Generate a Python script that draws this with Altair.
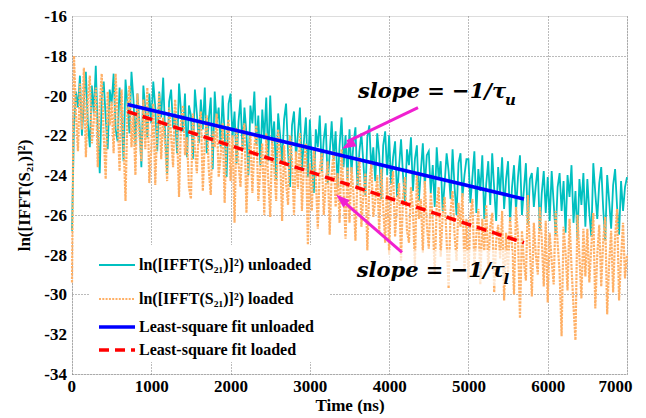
import altair as alt
import pandas as pd

# time grid (ns), one sample every 25 ns
time_ns = list(range(0, 7001, 25))

unloaded = [
    -26.8, -21.5, -19.8, -20.6, -19.0, -22.0, -20.3, -18.8, -21.4, -22.6, -19.5, -20.9, -18.5, -21.8, -23.9, -20.1, -19.3, -21.1, -22.7, -19.7,
    -20.4, -18.9, -21.7, -22.3, -19.6, -20.8, -23.3, -19.2, -20.5, -21.9, -18.8, -20.2, -22.5, -19.9, -21.3, -23.6, -19.5, -20.7, -22.1, -19.9,
    -21.4, -19.3, -20.6, -22.8, -19.8, -21.1, -19.1, -22.0, -23.9, -20.3, -19.7, -21.6, -20.9, -22.9, -19.4, -20.8, -21.8, -19.9, -23.1, -20.5,
    -21.0, -23.2, -19.7, -20.9, -22.4, -20.2, -21.7, -19.6, -22.9, -21.2, -20.1, -23.7, -19.8, -21.4, -20.6, -22.6, -20.0, -21.9, -24.1, -20.4,
    -19.9, -22.1, -20.8, -23.4, -21.3, -20.2, -22.7, -20.6, -21.9, -24.0, -20.5, -21.4, -19.8, -22.5, -21.0, -23.5, -20.7, -22.2, -20.1, -23.3,
    -20.0, -22.4, -21.3, -24.3, -20.9, -22.0, -23.4, -21.2, -20.4, -22.8, -24.6, -21.5, -20.8, -23.1, -21.9, -20.6, -23.7, -22.3, -21.1, -24.1,
    -21.2, -23.5, -24.9, -21.7, -22.6, -21.0, -23.8, -22.2, -21.4, -24.4, -22.9, -21.3, -23.2, -21.8, -24.6, -22.5, -21.1, -23.6, -22.0, -24.2,
    -21.7, -23.9, -22.4, -21.6, -24.7, -22.8, -21.9, -23.4, -25.0, -22.1, -21.5, -23.7, -22.6, -24.3, -21.9, -23.0, -25.2, -22.5, -21.8, -24.0,
    -22.0, -24.5, -23.1, -22.3, -25.1, -23.6, -22.2, -24.0, -25.4, -22.7, -23.5, -22.1, -24.8, -23.2, -22.5, -25.3, -23.8, -22.4, -24.6, -23.0,
    -22.8, -24.9, -23.5, -25.6, -22.6, -24.2, -23.3, -25.8, -24.4, -22.9, -23.8, -25.2, -22.7, -24.6, -26.0, -23.4, -22.9, -25.1, -24.0, -23.2,
    -23.2, -25.4, -24.1, -22.8, -25.9, -23.7, -24.8, -23.0, -26.2, -24.4, -23.3, -25.5, -22.9, -24.7, -26.3, -23.6, -24.9, -23.1, -25.7, -24.2,
    -23.3, -26.4, -24.6, -23.5, -25.8, -24.1, -23.0, -26.0, -24.7, -23.4, -26.5, -24.2, -23.9, -25.6, -24.5, -23.6, -26.8, -24.9, -23.8, -25.9,
    -24.1, -26.3, -23.8, -25.4, -27.0, -24.6, -23.9, -25.8, -24.3, -26.9, -24.0, -25.1, -23.5, -26.4, -24.8, -27.2, -24.2, -25.5, -23.9, -26.6,
    -24.2, -25.9, -27.1, -23.4, -24.9, -26.2, -24.4, -23.6, -25.7, -27.3, -24.0, -25.3, -26.7, -24.5, -23.7, -25.6, -27.0, -24.3, -25.8, -24.6,
    -24.1,
]

loaded = [
    -29.4, -18.0, -20.9, -22.8, -19.4, -21.7, -18.6, -23.1, -20.2, -19.0, -22.4, -21.3, -19.6, -23.6, -20.5, -18.9, -22.0, -24.2, -19.8, -21.5,
    -20.3, -22.9, -18.9, -21.1, -23.8, -19.7, -22.3, -25.3, -20.6, -19.5, -22.6, -21.0, -24.0, -19.9, -21.9, -23.3, -20.2, -22.7, -19.6, -24.4,
    -22.7, -20.4, -24.5, -21.6, -19.9, -23.2, -21.1, -22.4, -24.3, -20.6, -22.0, -23.6, -20.2, -21.8, -25.1, -21.3, -20.5, -23.0, -22.1, -24.6,
    -25.2, -20.9, -22.7, -23.9, -21.5, -20.8, -24.8, -22.3, -21.0, -23.7, -25.0, -21.8, -22.6, -20.9, -24.1, -23.0, -21.4, -25.4, -22.0, -21.2,
    -24.3, -22.0, -26.4, -21.6, -23.4, -24.6, -22.3, -21.4, -25.9, -23.1, -22.0, -24.9, -22.6, -21.5, -25.3, -23.7, -22.4, -26.0, -21.9, -24.2,
    -26.1, -22.2, -23.6, -25.3, -21.7, -23.0, -26.3, -22.5, -24.4, -25.5, -22.0, -23.2, -26.0, -22.8, -24.7, -21.9, -25.8, -23.5, -22.4, -27.5,
    -23.4, -25.8, -22.6, -24.1, -26.7, -23.7, -22.9, -26.0, -24.5, -23.3, -27.0, -24.0, -22.8, -25.6, -23.9, -26.4, -22.7, -24.8, -27.2, -23.6,
    -26.4, -23.6, -24.9, -27.3, -24.2, -23.1, -26.6, -25.0, -23.9, -27.8, -24.5, -23.4, -26.1, -25.3, -24.0, -26.9, -23.7, -25.6, -27.4, -24.1,
    -28.0, -24.7, -23.8, -27.1, -25.4, -24.4, -28.3, -25.0, -24.1, -26.8, -27.4, -24.6, -25.7, -28.6, -23.9, -26.2, -25.2, -27.9, -24.3, -26.5,
    -27.7, -24.9, -26.3, -29.0, -25.5, -24.6, -28.1, -26.0, -25.1, -27.3, -29.7, -25.8, -24.8, -27.0, -28.3, -25.4, -26.6, -24.9, -28.8, -26.2,
    -29.2, -26.0, -25.2, -28.6, -27.0, -25.7, -29.5, -26.2, -27.8, -25.5, -28.8, -26.6, -25.9, -29.9, -27.3, -26.5, -28.2, -25.8, -30.3, -26.9,
    -28.9, -26.1, -27.5, -30.0, -25.6, -27.0, -31.2, -26.8, -28.4, -29.3, -25.0, -27.7, -30.1, -26.4, -28.0, -29.0, -25.6, -27.2, -29.6, -26.3,
    -30.4, -26.9, -28.3, -29.5, -25.8, -27.4, -28.9, -32.1, -26.6, -27.9, -29.8, -26.2, -28.6, -30.6, -32.3, -26.0, -28.1, -30.2, -26.7, -29.1,
    -26.7, -29.4, -27.6, -25.9, -30.7, -28.0, -26.5, -29.6, -27.3, -26.1, -31.0, -28.4, -26.8, -29.9, -27.1, -25.7, -30.3, -28.2, -26.4, -29.2,
    -28.0,
]

fit_t = [700, 5700]
fit_unloaded = [-20.45, -25.2]
fit_loaded = [-20.8, -27.4]

x_ticks = [0, 1000, 2000, 3000, 4000, 5000, 6000, 7000]
y_ticks = [-34, -32, -30, -28, -26, -24, -22, -20, -18, -16]

legend_labels = [
    "ln([IFFT(S\u2082\u2081)]\u00b2) unloaded",
    "ln([IFFT(S\u2082\u2081)]\u00b2) loaded",
    "Least-square fit unloaded",
    "Least-square fit loaded",
]

FONT = "Liberation Serif"
TEAL = "#00C0C0"
ORANGE = "#FFB066"
BLUE = "#0000FF"
RED = "#FF0000"
MAGENTA = "#F020D0"

df_u = pd.DataFrame({"t": time_ns, "v": unloaded})
df_l = pd.DataFrame({"t": time_ns, "v": loaded})
df_fu = pd.DataFrame({"t": fit_t, "v": fit_unloaded})
df_fl = pd.DataFrame({"t": fit_t, "v": fit_loaded})
df_yt = pd.DataFrame({"v": y_ticks, "lab": [str(v) for v in y_ticks]})
one = alt.Data(values=[{}])

xscale = alt.Scale(domain=[0, 7000], nice=False, zero=False)
yscale = alt.Scale(domain=[-34, -16], nice=False, zero=False)

grid_style = dict(grid=True, ticks=False, domain=False,
                  gridColor="#777777", gridDash=[1, 2], gridWidth=1,
                  titleFont=FONT, titleFontWeight="bold", titleFontSize=17, titleColor="black")

X = alt.X("t:Q", scale=xscale, title="Time (ns)",
          axis=alt.Axis(values=x_ticks, labelExpr="'' + datum.value",
                        labelFont=FONT, labelFontWeight="bold", labelFontSize=17,
                        labelColor="black", labelPadding=4, labelOverlap=False,
                        labelFlush=True, labelFlushOffset=5, titlePadding=3, **grid_style))
Y = alt.Y("v:Q", scale=yscale, title="ln([IFFT(S\u2082\u2081)]\u00b2)",
          axis=alt.Axis(values=y_ticks, labels=False,
                        titleX=-48, titleY=179, titleAngle=-90, titleAlign="center",
                        titleBaseline="middle", **grid_style))

l_u = alt.Chart(df_u).mark_line(color=TEAL, strokeWidth=1.8).encode(x=X, y=Y)
l_l = alt.Chart(df_l).mark_line(color=ORANGE, strokeWidth=2.2, strokeDash=[2.5, 1]).encode(x="t:Q", y="v:Q")
l_fu = alt.Chart(df_fu).mark_line(color=BLUE, strokeWidth=3.5).encode(x="t:Q", y="v:Q")
l_fl = alt.Chart(df_fl).mark_line(color=RED, strokeWidth=3.5, strokeDash=[10, 6]).encode(x="t:Q", y="v:Q")

# y tick labels
ylab = alt.Chart(df_yt).mark_text(font=FONT, fontWeight="bold", fontSize=17, color="black",
                                  align="right", baseline="middle", dx=-5, dy=1).encode(
    x=alt.value(0), y="v:Q", text="lab:N")

# semi-transparent box behind lower annotation
box = alt.Chart(one).mark_rect(fill="white", opacity=0.65).encode(
    x=alt.datum(3531), x2=alt.datum(5549), y=alt.datum(-27.78), y2=alt.datum(-29.53))

arrow_shape = "M0,0L0.7,2L-0.7,2Z"
arr1 = alt.Chart(one).mark_rule(color=MAGENTA, strokeWidth=3).encode(
    x=alt.datum(4364), y=alt.datum(-20.61), x2=alt.datum(3470), y2=alt.datum(-22.32))
head1 = alt.Chart(one).mark_point(shape=arrow_shape, size=196, filled=True, color=MAGENTA,
                                  opacity=1, angle=241.7).encode(
    x=alt.datum(3405), y=alt.datum(-22.67))
arr2 = alt.Chart(one).mark_rule(color=MAGENTA, strokeWidth=3).encode(
    x=alt.datum(4162), y=alt.datum(-27.89), x2=alt.datum(3400), y2=alt.datum(-25.25))
head2 = alt.Chart(one).mark_point(shape=arrow_shape, size=196, filled=True, color=MAGENTA,
                                  opacity=1, angle=311.3).encode(
    x=alt.datum(3330), y=alt.datum(-24.98))

TXT = dict(font="DejaVu Serif", fontStyle="italic", fontWeight="bold", fontSize=21,
           color="black", align="left", baseline="alphabetic")
t1 = alt.Chart(one).mark_text(text="slope = \u22121/\u03c4", **TXT).encode(
    x=alt.datum(3607), y=alt.datum(-20.11))
t1s = alt.Chart(one).mark_text(text="u", **{**TXT, "fontSize": 15}).encode(
    x=alt.datum(5460), y=alt.datum(-20.45))
t2 = alt.Chart(one).mark_text(text="slope = \u22121/\u03c4", **TXT).encode(
    x=alt.datum(3590), y=alt.datum(-29.13))
t2s = alt.Chart(one).mark_text(text="l", **{**TXT, "fontSize": 15}).encode(
    x=alt.datum(5443), y=alt.datum(-29.45))

# legend (pixel positions inside plot area)
leg_box = alt.Chart(one).mark_rect(fill="white").encode(
    x=alt.value(18), x2=alt.value(258), y=alt.value(229), y2=alt.value(346))
leg_y = [249, 283, 311, 334]
leg_style = [
    dict(color=TEAL, strokeWidth=1.8),
    dict(color=ORANGE, strokeWidth=2, strokeDash=[2, 1.3]),
    dict(color=BLUE, strokeWidth=3.5),
    dict(color=RED, strokeWidth=3.5, strokeDash=[10, 6]),
]
leg_layers = []
for lab, yy, st in zip(legend_labels, leg_y, leg_style):
    leg_layers.append(alt.Chart(one).mark_rule(**st).encode(
        x=alt.value(27), x2=alt.value(63), y=alt.value(yy)))
    leg_layers.append(alt.Chart(one).mark_text(
        text=lab, font=FONT, fontWeight="bold", fontSize=16, color="black",
        align="left", baseline="middle").encode(x=alt.value(67), y=alt.value(yy)))

chart = alt.layer(
    l_u, l_l, l_fu, l_fl, ylab, box, arr1, head1, arr2, head2, t1, t1s, t2, t2s, leg_box, *leg_layers
).properties(
    width=555, height=358,
    autosize=alt.AutoSizeParams(type="none"),
    padding={"left": 64, "top": 8, "right": 10, "bottom": 40},
).configure_view(
    stroke="#A6A6A6", strokeWidth=2
).configure(background="white")

chart.save("out.html", embed_options={"renderer": "svg", "actions": False})
